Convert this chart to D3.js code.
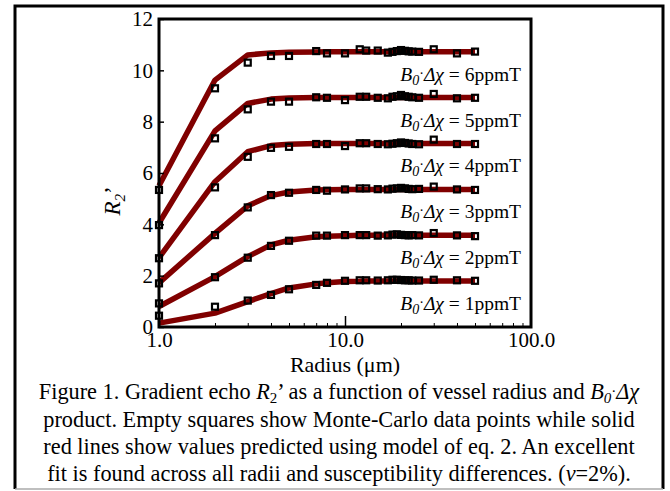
<!DOCTYPE html>
<html>
<head>
<meta charset="utf-8">
<script src="https://cdn.jsdelivr.net/npm/d3@7"></script>
<style>
  body { margin: 0; background: #fff; }
  svg text { font-family: "Liberation Serif", "Times New Roman", serif; fill: #000; }
</style>
</head>
<body>
<div class="svg"></div>
<script>
var svgWidth = 670;
var svgHeight = 491;

// vessel radii (um) used for both the Monte-Carlo points and the model lines
var radii = [1, 2, 3, 4, 5, 7, 8, 10, 12, 13, 15, 17, 18, 19, 20, 21, 22, 23, 25, 30, 40, 50];

// B0*dchi products (ppmT), top curve first
var products = [6, 5, 4, 3, 2, 1];

// model of eq. 2 (solid red lines)
var model6 = [5.50, 9.62, 10.60, 10.68, 10.70, 10.71, 10.72, 10.72, 10.72, 10.72, 10.72, 10.72, 10.72, 10.72, 10.72, 10.72, 10.72, 10.72, 10.72, 10.72, 10.72, 10.72];
var model5 = [4.05, 7.64, 8.71, 8.88, 8.92, 8.94, 8.94, 8.94, 8.94, 8.94, 8.94, 8.94, 8.94, 8.94, 8.94, 8.94, 8.94, 8.94, 8.94, 8.94, 8.94, 8.94];
var model4 = [2.70, 5.66, 6.83, 7.07, 7.12, 7.15, 7.15, 7.15, 7.15, 7.15, 7.15, 7.15, 7.15, 7.15, 7.15, 7.15, 7.15, 7.15, 7.15, 7.15, 7.15, 7.15];
var model3 = [1.72, 3.65, 4.72, 5.12, 5.26, 5.34, 5.35, 5.36, 5.36, 5.36, 5.36, 5.36, 5.36, 5.36, 5.36, 5.36, 5.36, 5.36, 5.36, 5.36, 5.36, 5.36];
var model2 = [0.80, 1.96, 2.74, 3.20, 3.38, 3.52, 3.54, 3.56, 3.57, 3.57, 3.57, 3.57, 3.57, 3.57, 3.57, 3.57, 3.57, 3.57, 3.57, 3.57, 3.57, 3.57];
var model1 = [0.15, 0.54, 0.99, 1.30, 1.52, 1.68, 1.72, 1.77, 1.78, 1.79, 1.79, 1.79, 1.79, 1.79, 1.79, 1.79, 1.79, 1.79, 1.79, 1.79, 1.79, 1.79];

// Monte-Carlo data (empty squares)
var mc6 = [5.34, 9.30, 10.30, 10.56, 10.56, 10.75, 10.66, 10.66, 10.82, 10.77, 10.77, 10.69, 10.72, 10.75, 10.79, 10.76, 10.74, 10.73, 10.72, 10.82, 10.66, 10.73];
var mc5 = [3.97, 7.35, 8.48, 8.78, 8.78, 8.95, 8.93, 8.84, 8.97, 8.97, 8.93, 8.91, 8.97, 8.99, 9.04, 8.99, 8.97, 8.95, 8.93, 9.08, 8.91, 8.93];
var mc4 = [2.68, 5.44, 6.63, 6.98, 7.02, 7.13, 7.13, 7.05, 7.16, 7.16, 7.13, 7.12, 7.14, 7.16, 7.19, 7.17, 7.15, 7.13, 7.12, 7.30, 7.13, 7.13];
var mc3 = [1.70, 3.58, 4.66, 5.14, 5.23, 5.34, 5.31, 5.36, 5.40, 5.40, 5.37, 5.36, 5.39, 5.40, 5.42, 5.40, 5.38, 5.37, 5.38, 5.47, 5.36, 5.34];
var mc2 = [0.92, 1.94, 2.70, 3.16, 3.36, 3.56, 3.56, 3.58, 3.58, 3.58, 3.56, 3.57, 3.60, 3.61, 3.59, 3.58, 3.57, 3.58, 3.57, 3.66, 3.57, 3.54];
var mc1 = [0.44, 0.79, 1.03, 1.25, 1.47, 1.64, 1.72, 1.80, 1.82, 1.82, 1.81, 1.82, 1.84, 1.84, 1.83, 1.82, 1.82, 1.81, 1.81, 1.84, 1.82, 1.80];

var models = [model6, model5, model4, model3, model2, model1];
var mcData = [mc6, mc5, mc4, mc3, mc2, mc1];

var xTickValues = [1, 10, 100];
var yTickValues = [0, 2, 4, 6, 8, 10, 12];

var margin = { top: 19, right: 139, bottom: 164, left: 159 };
var plotRight = svgWidth - margin.right;
var plotBottom = svgHeight - margin.bottom;

var svg = d3.select(".svg")
  .append("svg")
  .attr("width", svgWidth)
  .attr("height", svgHeight);

var x = d3.scaleLog().domain([1, 100]).range([margin.left, plotRight]);
var y = d3.scaleLinear().domain([0, 12]).range([plotBottom, margin.top]);

// outer figure frame
svg.append("path")
  .attr("d", "M15,489 L15,6 L663,6 L663,489")
  .attr("fill", "none")
  .attr("stroke", "#000")
  .attr("stroke-width", 3);
svg.append("line")
  .attr("x1", 15).attr("x2", 663)
  .attr("y1", 489).attr("y2", 489)
  .attr("stroke", "#aaa")
  .attr("stroke-width", 1.5);

// model lines
var line = d3.line()
  .x(function(d, i) { return x(radii[i]); })
  .y(function(d) { return y(d); });

svg.append("g")
  .selectAll("path")
  .data(models)
  .enter()
  .append("path")
  .attr("d", line)
  .attr("fill", "none")
  .attr("stroke", "#800000")
  .attr("stroke-width", 5.5)
  .attr("stroke-linejoin", "round");

// monte-carlo squares
var sq = 6;
mcData.forEach(function(series) {
  svg.append("g")
    .selectAll("rect")
    .data(series)
    .enter()
    .append("rect")
    .attr("x", function(d, i) { return x(radii[i]) - sq / 2; })
    .attr("y", function(d) { return y(d) - sq / 2; })
    .attr("width", sq)
    .attr("height", sq)
    .attr("fill", "none")
    .attr("stroke", "#000")
    .attr("stroke-width", 2.2);
});

// series labels, right aligned under each plateau
products.forEach(function(p, k) {
  var plateau = models[k][models[k].length - 1];
  var t = svg.append("text")
    .attr("x", 521)
    .attr("y", y(plateau) + 29)
    .attr("text-anchor", "end")
    .attr("font-size", 19.5);
  t.append("tspan").attr("font-style", "italic").text("B");
  t.append("tspan").attr("font-style", "italic").attr("font-size", 14).attr("dy", 4).text("0");
  t.append("tspan").attr("font-size", 14).attr("dy", -7).text("·");
  t.append("tspan").attr("font-style", "italic").attr("dy", 3).text("Δχ");
  t.append("tspan").text(" = " + p + "ppmT");
});

// minor log ticks (inward) on the x axis
var minorTicks = x.ticks().filter(function(d) { return xTickValues.indexOf(d) < 0; });
svg.append("g")
  .attr("transform", "translate(0," + plotBottom + ")")
  .call(d3.axisTop(x).tickValues(minorTicks).tickSize(4).tickFormat(""))
  .call(function(g) { g.select(".domain").remove(); })
  .selectAll("line").attr("stroke-width", 1);

// major tick at 10
svg.append("g")
  .attr("transform", "translate(0," + plotBottom + ")")
  .call(d3.axisTop(x).tickValues([10]).tickSize(11).tickFormat(""))
  .call(function(g) { g.select(".domain").remove(); })
  .selectAll("line").attr("stroke-width", 1.5);

// x tick labels
var xAxis = svg.append("g")
  .attr("transform", "translate(0," + plotBottom + ")")
  .call(d3.axisBottom(x).tickValues(xTickValues).tickSize(0).tickPadding(5).tickFormat(d3.format(".1f")));
xAxis.select(".domain").remove();
xAxis.selectAll("text")
  .attr("font-size", 21)
  .attr("font-family", null)
  .attr("fill", "#000");

// y ticks inward
svg.append("g")
  .attr("transform", "translate(" + margin.left + ",0)")
  .call(d3.axisRight(y).tickValues(yTickValues).tickSize(5).tickFormat(""))
  .call(function(g) { g.select(".domain").remove(); })
  .selectAll("line").attr("stroke-width", 1.5);

// y tick labels
var yAxis = svg.append("g")
  .attr("transform", "translate(" + margin.left + ",0)")
  .call(d3.axisLeft(y).tickValues(yTickValues).tickSize(0).tickPadding(6));
yAxis.select(".domain").remove();
yAxis.selectAll("text")
  .attr("font-size", 21)
  .attr("font-family", null)
  .attr("fill", "#000");

// plot frame
svg.append("rect")
  .attr("x", margin.left)
  .attr("y", margin.top)
  .attr("width", plotRight - margin.left)
  .attr("height", plotBottom - margin.top)
  .attr("fill", "none")
  .attr("stroke", "#000")
  .attr("stroke-width", 3);

// axis titles
svg.append("text")
  .attr("x", (margin.left + plotRight) / 2)
  .attr("y", 372)
  .attr("text-anchor", "middle")
  .attr("font-size", 22)
  .text("Radius (μm)");

var yTitle = svg.append("text")
  .attr("transform", "translate(120,201) rotate(-90)")
  .attr("text-anchor", "middle")
  .attr("font-size", 23);
yTitle.append("tspan").attr("font-style", "italic").text("R");
yTitle.append("tspan").attr("font-style", "italic").attr("font-size", 15).attr("dy", 5).text("2");
yTitle.append("tspan").attr("dy", -5).text("’");

// caption
var captionLines = [
  [["Figure 1. Gradient echo ", ""], ["R", "i"], ["2", "sub"], ["’ as a function of vessel radius and ", "up"], ["B", "i"], ["0", "subi"], ["·", "dot"], ["Δχ", "iup"]],
  [["product. Empty squares show Monte-Carlo data points while solid", ""]],
  [["red lines show values predicted using model of eq. 2. An excellent", ""]],
  [["fit is found across all radii and susceptibility differences. (", ""], ["ν", "i"], ["=2%).", ""]]
];
var captionBase = [399, 427, 454, 481];

captionLines.forEach(function(parts, li) {
  var t = svg.append("text")
    .attr("x", 339)
    .attr("y", captionBase[li])
    .attr("text-anchor", "middle")
    .attr("font-size", 22.3);
  parts.forEach(function(p) {
    var s = t.append("tspan").text(p[0]);
    if (p[1] == "i") s.attr("font-style", "italic");
    if (p[1] == "sub") s.attr("font-size", 15).attr("dy", 4);
    if (p[1] == "subi") s.attr("font-size", 15).attr("dy", 4).attr("font-style", "italic");
    if (p[1] == "up") s.attr("dy", -4);
    if (p[1] == "dot") s.attr("font-size", 15).attr("dy", -7);
    if (p[1] == "iup") s.attr("font-style", "italic").attr("dy", 3);
  });
});
</script>
</body>
</html>
